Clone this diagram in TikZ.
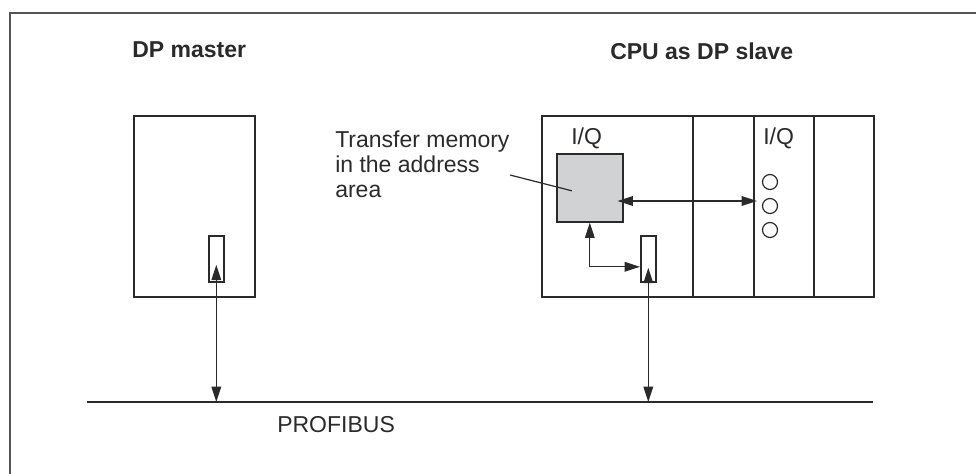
\documentclass[tikz,border=0pt]{standalone}
\usepackage{fontspec}
\setsansfont{Liberation Sans}
\usepackage{tikz}
\usetikzlibrary{arrows.meta,calc}
\definecolor{ink}{HTML}{2A2A2A}
\definecolor{marco}{HTML}{555555}
\definecolor{relleno}{HTML}{D1D2D4}
\newcommand{\pxu}{0.75pt}
\newcommand{\letra}{\fontsize{17.25}{18.75}\selectfont}
\tikzset{
  caja/.style={draw=ink,line width=1.2pt,inner sep=0pt,anchor=north west},
  led/.style={circle,draw=ink,line width=0.9pt,inner sep=0pt,minimum size=15*\pxu},
  flecha/.style={<->,>={Triangle[length=11.5pt,width=7.2pt]},line width=1pt,color=ink},
  guia/.style={line width=0.9pt,color=ink},
  bus/.style={line width=2.2pt,color=ink},
  titulo/.style={font=\sffamily\bfseries\letra,text=ink,anchor=base west,inner sep=0pt},
  etiqueta/.style={font=\sffamily\letra,text=ink,anchor=base west,inner sep=0pt},
}

\begin{document}
\begin{tikzpicture}[x=\pxu,y=-\pxu]
  \useasboundingbox (0,0) rectangle (976,474);
  \draw[marco,line width=1.5pt] (976,13) -- (10,13) -- (10,474);
  % master
  \node[titulo] (tm) at (132,58) {DP master};
  \node[caja,minimum width=121*\pxu,minimum height=181*\pxu] (dpm) at (133,115) {};
  \node[caja,minimum width=15*\pxu,minimum height=46*\pxu] (mport) at (208,235) {};
  % slave rack
  \node[titulo] (ts) at (610,60) {CPU as DP slave};
  \foreach \n/\x/\w in {m1/541/151,m2/692/61,m3/753/60,m4/813/60}
    \node[caja,minimum width=\w*\pxu,minimum height=181*\pxu] (\n) at (\x,115) {};
  \node[caja,fill=relleno,minimum width=66*\pxu,minimum height=68*\pxu] (mem) at (556,153) {};
  \node[caja,minimum width=15*\pxu,minimum height=46*\pxu] (sport) at (640,235) {};
  \foreach \i/\y in {1/182,2/206,3/230}
    \node[led] (c\i) at (770,\y) {};
  \node[etiqueta] (iq1) at (571,145) {I/Q};
  \node[etiqueta] (iq2) at (763,145) {I/Q};
  \node[etiqueta,anchor=north west,align=left] (tx) at (335,131) {Transfer memory\\in the address\\area};
  % bus
  \coordinate (b0) at (87,402);
  \coordinate (b1) at (873,402);
  \draw[bus] (b0) -- (b1);
  \node[etiqueta] (pb) at (277,432) {PROFIBUS};
  % connections
  \coordinate (hx) at (757,201);
  \coordinate (lp) at (510,175);
  \draw[flecha,shorten >=4.5pt] (mport.center |- b0) -- (mport.center);
  \draw[flecha,shorten >=6.75pt] (sport.center |- b0) -- (sport.center);
  \draw[flecha,shorten <=-4.5pt] (mem.east |- hx) -- (hx);
  \draw[flecha] (mem.south) |- ([yshift=-6pt]sport.west);
  \draw[guia] (lp) -- ([shift={(-13.5pt,-2.25pt)}]mem.center);
\end{tikzpicture}
\end{document}
